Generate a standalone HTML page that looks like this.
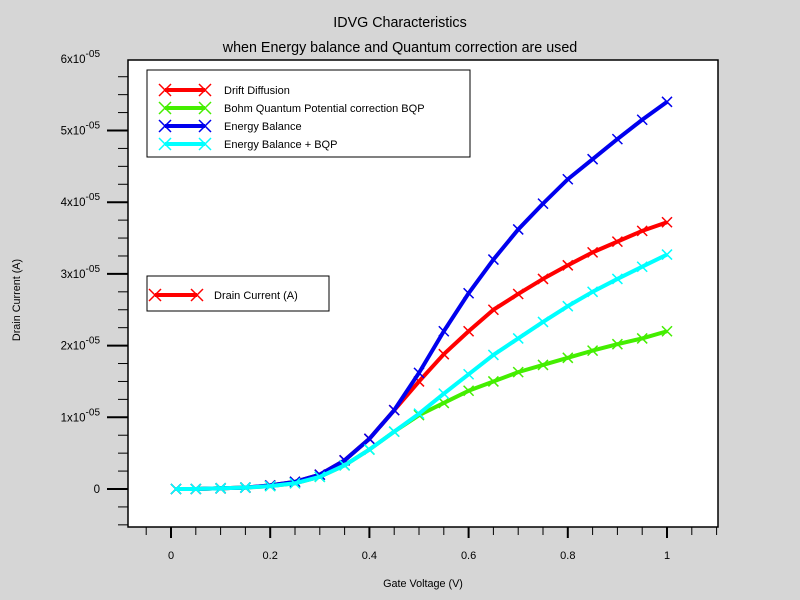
<!DOCTYPE html>
<html><head><meta charset="utf-8">
<style>
body{margin:0;background:#d6d6d6;}
svg{display:block;font-family:"Liberation Sans",sans-serif;}
</style></head>
<body>
<svg id="chart" width="800" height="600" xmlns="http://www.w3.org/2000/svg">
<rect width="800" height="600" fill="#d6d6d6"/>
<text x="400" y="27" text-anchor="middle" font-size="14.3">IDVG Characteristics</text>
<text x="400" y="52" text-anchor="middle" font-size="14.3">when Energy balance and Quantum correction are used</text>
<rect x="128" y="60" width="590" height="467" fill="#fff" stroke="#000" stroke-width="1.5"/>
<g id="axes"></g>
<g id="series"></g>
<text x="423" y="587" text-anchor="middle" font-size="10.8">Gate Voltage (V)</text>
<text transform="translate(20,300) rotate(-90)" text-anchor="middle" font-size="10.8">Drain Current (A)</text>
<g id="legend"></g>
</svg>
<script>
const xs=[0.01,0.05,0.1,0.15,0.2,0.25,0.3,0.35,0.4,0.45,0.5,0.55,0.6,0.65,0.7,0.75,0.8,0.85,0.9,0.95,1.0];
const driftDiffusion=[0,0,0.01,0.02,0.05,0.1,0.2,0.4,0.7,1.1,1.5,1.88,2.2,2.5,2.72,2.93,3.12,3.3,3.45,3.6,3.72];
const bohmBQP=[0,0,0.01,0.02,0.04,0.08,0.17,0.33,0.55,0.8,1.03,1.2,1.37,1.5,1.63,1.73,1.83,1.93,2.02,2.1,2.2];
const energyBalance=[0,0,0.01,0.02,0.05,0.1,0.2,0.4,0.7,1.1,1.62,2.2,2.73,3.2,3.62,3.98,4.32,4.6,4.88,5.15,5.4];
const energyBalanceBQP=[0,0,0.01,0.02,0.04,0.08,0.17,0.33,0.55,0.8,1.05,1.33,1.6,1.87,2.1,2.33,2.55,2.75,2.93,3.1,3.27];
const xTickLabels=["0","0.2","0.4","0.6","0.8","1"];
const xTickValues=[0,0.2,0.4,0.6,0.8,1];
const yTickValues=[0,1,2,3,4,5,6];
const seriesNames=["Drift Diffusion","Bohm Quantum Potential correction BQP","Energy Balance","Energy Balance + BQP"];
const seriesColors=["#ff0000","#44ee00","#0000ee","#00ffff"];

const NS="http://www.w3.org/2000/svg";
function X(v){return 171+v*496;}
function Y(v){return 489-v*71.7;}
function mk(tag,attrs,parent){const e=document.createElementNS(NS,tag);for(const k in attrs)e.setAttribute(k,attrs[k]);parent.appendChild(e);return e;}
const axes=document.getElementById('axes');
for(let i=-1;i<=22;i++){const v=i*0.05;const x=X(v);if(x<129||x>717)continue;const major=i%4===0;
 const t=mk('line',{x1:x,x2:x,y1:527,y2:major?538:535,stroke:'#000','stroke-width':major?2:1},axes);
 
 }
xTickValues.forEach((v,i)=>{const t=mk('text',{x:X(v),y:559,'text-anchor':'middle','font-size':'11'},axes);t.textContent=xTickLabels[i];
 
 });
for(let i=-2;i<=24;i++){const v=i*0.25;const y=Y(v);if(y<59||y>526)continue;const major=i%4===0;
 const t=mk('line',{x1:major?107:118,x2:128,y1:y,y2:y,stroke:'#000','stroke-width':major?2:1},axes);
 
 }
yTickValues.forEach(v=>{const t=mk('text',{x:100,y:Y(v)+4,'text-anchor':'end','font-size':'11.5'},axes);
 if(v===0){t.textContent='0';}else{t.textContent=v+'x10';const s=mk('tspan',{dy:-6,'font-size':'10'},t);s.textContent='-05';}
 
 });
const sg=document.getElementById('series');
function cross(x,y,c,p,s){const path=mk('path',{d:`M${x-s},${y-s}L${x+s},${y+s}M${x-s},${y+s}L${x+s},${y-s}`,stroke:c,'stroke-width':1.5,fill:'none'},p);
 
 }
[driftDiffusion,bohmBQP,energyBalance,energyBalanceBQP].forEach((arr,si)=>{
 const g=mk('g',{},sg);
 
 
 const pl=mk('polyline',{points:arr.map((v,i)=>X(xs[i])+','+Y(v)).join(' '),fill:'none',stroke:seriesColors[si],'stroke-width':4,'stroke-linejoin':'round'},g);
 
 
 arr.forEach((v,i)=>cross(X(xs[i]),Y(v),seriesColors[si],g,5));
});
const lg=document.getElementById('legend');
const box=mk('rect',{x:147,y:70,width:323,height:87,fill:'#fff',stroke:'#000','stroke-width':1},lg);


seriesNames.forEach((n,i)=>{const y=90+i*18;const g=mk('g',{},lg);
 
 
 mk('line',{x1:165,x2:205,y1:y,y2:y,stroke:seriesColors[i],'stroke-width':4},g);
 cross(165,y,seriesColors[i],g,6);cross(205,y,seriesColors[i],g,6);
 const t=mk('text',{x:224,y:y+4,'font-size':'11'},g);t.textContent=n;});
const box2=mk('rect',{x:147,y:276,width:182,height:35,fill:'#fff',stroke:'#000','stroke-width':1},lg);


const g2=mk('g',{},lg);


mk('line',{x1:155,x2:197,y1:295,y2:295,stroke:'#ff0000','stroke-width':4},g2);
cross(155,295,'#ff0000',g2,6);cross(197,295,'#ff0000',g2,6);
const t2=mk('text',{x:214,y:299,'font-size':'11'},g2);t2.textContent='Drain Current (A)';
</script>
</body></html>
